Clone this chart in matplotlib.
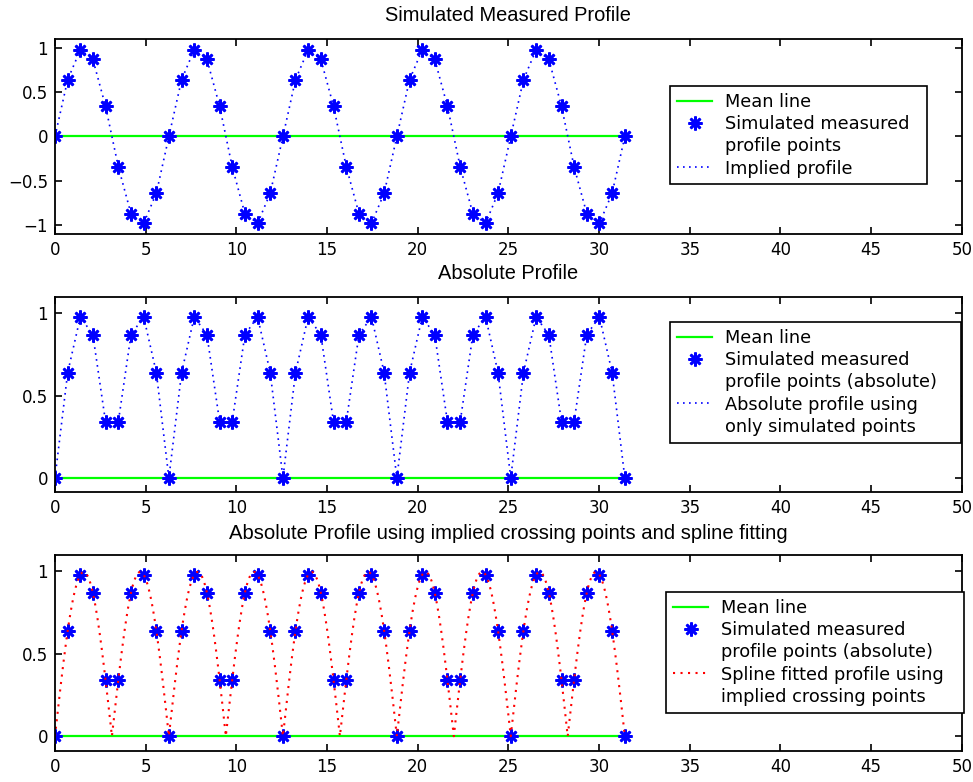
import numpy as np
import matplotlib
matplotlib.use("Agg")
import matplotlib.pyplot as plt
from matplotlib.lines import Line2D

plt.rcParams['font.family'] = ['Liberation Sans', 'DejaVu Sans']

# sample positions along the profile
x_pts = [0.00, 0.70, 1.40, 2.09, 2.79, 3.49, 4.19, 4.89, 5.59, 6.28,
         6.98, 7.68, 8.38, 9.08, 9.77, 10.47, 11.17, 11.87, 12.57, 13.26,
         13.96, 14.66, 15.36, 16.06, 16.76, 17.45, 18.15, 18.85, 19.55, 20.25,
         20.94, 21.64, 22.34, 23.04, 23.74, 24.43, 25.13, 25.83, 26.53, 27.23,
         27.93, 28.62, 29.32, 30.02, 30.72, 31.42]
# measured heights
y_pts = [0.00, 0.64, 0.98, 0.87, 0.34, -0.34, -0.87, -0.98, -0.64, 0.00,
         0.64, 0.98, 0.87, 0.34, -0.34, -0.87, -0.98, -0.64, 0.00, 0.64,
         0.98, 0.87, 0.34, -0.34, -0.87, -0.98, -0.64, 0.00, 0.64, 0.98,
         0.87, 0.34, -0.34, -0.87, -0.98, -0.64, 0.00, 0.64, 0.98, 0.87,
         0.34, -0.34, -0.87, -0.98, -0.64, 0.00]
# implied zero crossings between sign changes
crossing_x = [3.14, 9.42, 15.71, 21.99, 28.27]
mean_level = 0.0

x_ticks = [0, 5, 10, 15, 20, 25, 30, 35, 40, 45, 50]

BLUE = '#0000ff'
GREEN = '#00ff00'
RED = '#ff0000'
TICK_FONT = dict(family='DejaVu Sans', size=12)
LEG_FONT = dict(family='DejaVu Sans', size=12.8)


def natural_spline(xs, ys, xq):
    n = len(xs)
    h = np.diff(xs)
    A = np.zeros((n, n))
    r = np.zeros(n)
    A[0, 0] = A[-1, -1] = 1
    for i in range(1, n - 1):
        A[i, i - 1] = h[i - 1]
        A[i, i] = 2 * (h[i - 1] + h[i])
        A[i, i + 1] = h[i]
        r[i] = 3 * ((ys[i + 1] - ys[i]) / h[i] - (ys[i] - ys[i - 1]) / h[i - 1])
    c = np.linalg.solve(A, r)
    b = (ys[1:] - ys[:-1]) / h - h * (2 * c[:-1] + c[1:]) / 3
    d = (c[1:] - c[:-1]) / (3 * h)
    idx = np.clip(np.searchsorted(xs, xq) - 1, 0, n - 2)
    dx = xq - xs[idx]
    return ys[idx] + b[idx] * dx + c[idx] * dx ** 2 + d[idx] * dx ** 3


x = np.array(x_pts)
y = np.array(y_pts)
y_abs = np.abs(y)
mean_y = np.full_like(x, mean_level)

# fit each arch between zero points separately
all_x = np.concatenate([x, crossing_x])
all_y = np.concatenate([y_abs, np.zeros(len(crossing_x))])
order = np.argsort(all_x)
all_x, all_y = all_x[order], all_y[order]
zeros = np.where(all_y == 0)[0]
sx, sy = [], []
for a, b in zip(zeros[:-1], zeros[1:]):
    xs, ys = all_x[a:b + 1], all_y[a:b + 1]
    xq = np.linspace(xs[0], xs[-1], 80)
    sx.append(xq)
    sy.append(natural_spline(xs, ys, xq))
sx = np.concatenate(sx)
sy = np.concatenate(sy)

fig = plt.figure(figsize=(9.73, 7.82), dpi=100)
ax1 = fig.add_axes([0.0565, 0.7008, 0.932, 0.2493])
ax2 = fig.add_axes([0.0565, 0.3708, 0.932, 0.2494])
ax3 = fig.add_axes([0.0565, 0.0396, 0.932, 0.2507])

dots = (0, (1, 2.6))
mk = dict(marker=(8, 2, 0), markersize=10, markeredgewidth=1.9, color=BLUE,
          linestyle='none')

ax1.plot(x, mean_y, color=GREEN, lw=1.6)
ax1.plot(x, y, color=BLUE, lw=1.2, linestyle=dots)
ax1.plot(x, y, **mk)
ax1.set_ylim(-1.1, 1.1)
ax1.set_yticks([-1, -0.5, 0, 0.5, 1])
ax1.set_title('Simulated Measured Profile', pad=12.8, fontsize=14.4)

ax2.plot(x, mean_y, color=GREEN, lw=1.6)
ax2.plot(x, y_abs, color=BLUE, lw=1.2, linestyle=dots)
ax2.plot(x, y_abs, **mk)
ax2.set_ylim(-0.085, 1.1)
ax2.set_yticks([0, 0.5, 1])
ax2.set_title('Absolute Profile', pad=13.3, fontsize=14.4)

ax3.plot(x, mean_y, color=GREEN, lw=1.6)
ax3.plot(x, y_abs, **mk)
ax3.plot(sx, sy, color=RED, lw=1.5, linestyle=dots)
ax3.set_ylim(-0.09, 1.1)
ax3.set_yticks([0, 0.5, 1])
ax3.set_title('Absolute Profile using implied crossing points and spline fitting',
              pad=11.2, fontsize=14.6)

for ax in (ax1, ax2, ax3):
    ax.set_xlim(0, 50)
    ax.set_xticks(x_ticks)
    ax.set_xticklabels([str(t) for t in x_ticks], fontdict=TICK_FONT)
    ax.set_yticklabels([f'{t:g}'.replace('-', '\u2212') for t in ax.get_yticks()],
                       fontdict=TICK_FONT)
    ax.tick_params(direction='in', top=True, right=True, length=5, width=1.2, pad=5)
    for s in ax.spines.values():
        s.set_linewidth(1.3)

green_h = Line2D([], [], color=GREEN, lw=1.6)
star_h = Line2D([], [], **mk)
blank_h = Line2D([], [], linestyle='none')
blue_h = Line2D([], [], color=BLUE, lw=1.2, linestyle=dots)
red_h = Line2D([], [], color=RED, lw=1.5, linestyle=dots)

leg_kw = dict(loc='upper left', mode='expand', bbox_transform=fig.transFigure,
              borderaxespad=0, fancybox=False, framealpha=1, edgecolor='black',
              prop=LEG_FONT, handlelength=2.0, handletextpad=0.7,
              labelspacing=0.24, borderpad=0.38)


def px_box(x0, y0, x1):
    # legend anchor box from pixel positions (top-left origin)
    return (x0 / 973, 1 - y0 / 782 - 0.01, (x1 - x0) / 973, 0.01)


leg = ax1.legend([green_h, star_h, blank_h, blue_h],
                 ['Mean line', 'Simulated measured', 'profile points',
                  'Implied profile'],
                 bbox_to_anchor=px_box(670, 86, 927), **leg_kw)
leg.get_frame().set_linewidth(1.2)

leg = ax2.legend([green_h, star_h, blank_h, blue_h, blank_h],
                 ['Mean line', 'Simulated measured',
                  'profile points (absolute)', 'Absolute profile using',
                  'only simulated points'],
                 bbox_to_anchor=px_box(670, 322, 961), **leg_kw)
leg.get_frame().set_linewidth(1.2)

leg = ax3.legend([green_h, star_h, blank_h, red_h, blank_h],
                 ['Mean line', 'Simulated measured',
                  'profile points (absolute)', 'Spline fitted profile using',
                  'implied crossing points'],
                 bbox_to_anchor=px_box(666, 592, 964), **leg_kw)
leg.get_frame().set_linewidth(1.2)

fig.savefig('out.png', dpi=100)
